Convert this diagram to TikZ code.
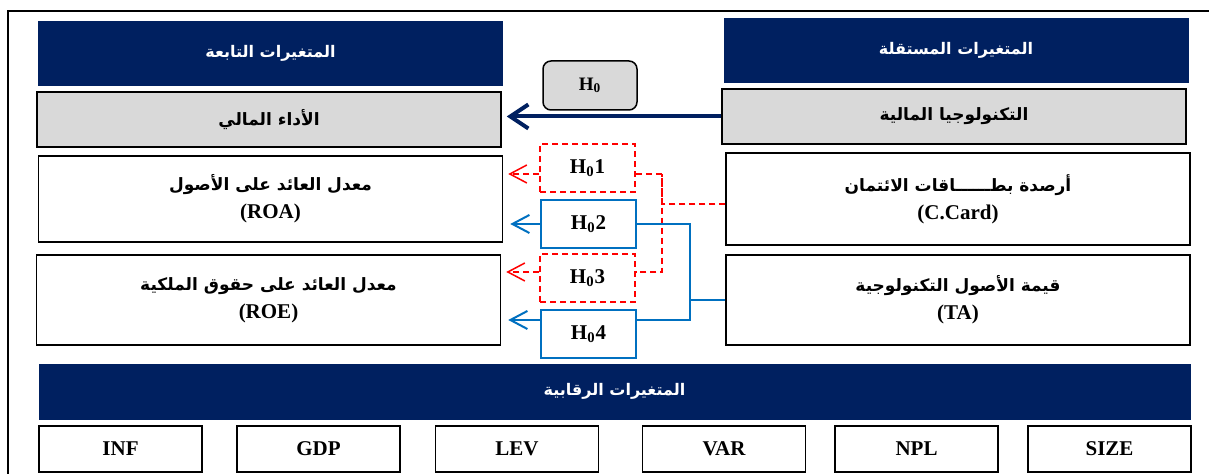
\documentclass[tikz,border=0pt]{standalone}
\usepackage{fontspec}
\setmainfont{Liberation Serif}
\newfontfamily\arabicfont[Script=Arabic]{DejaVu Sans}
\TeXXeTstate=1
\usetikzlibrary{positioning, arrows.meta}

\definecolor{navyblue}{HTML}{002060}
\definecolor{boxgray}{HTML}{D9D9D9}
\definecolor{linkred}{HTML}{FF0000}
\definecolor{linkblue}{HTML}{0070C0}

\newcommand{\artext}[1]{{\arabicfont\bfseries\fontsize{8.5}{14}\selectfont\beginR #1\endR}}
\newcommand{\arhead}[1]{{\arabicfont\bfseries\fontsize{8}{14}\selectfont\beginR #1\endR}}
\newcommand{\hyp}[1]{H\textsubscript{0}#1}

\begin{document}
\begin{tikzpicture}[
    x=0.5pt, y=-0.5pt,
    every node/.style={font=\bfseries\fontsize{10.5}{14}\selectfont, align=center, inner sep=0pt},
    headbox/.style={fill=navyblue, draw=navyblue, text=white, minimum width=232pt, minimum height=32pt},
    graybox/.style={fill=boxgray, draw=black, line width=0.75pt, minimum width=232pt, minimum height=27.5pt},
    varbox/.style={draw=black, line width=0.75pt, minimum width=232pt, minimum height=45pt},
    ctrlbox/.style={draw=black, line width=0.75pt, minimum width=81.5pt, minimum height=23pt},
    hypred/.style={draw=linkred, line width=0.75pt, dash pattern=on 3pt off 2pt, minimum width=47.5pt, minimum height=24pt},
    hypblue/.style={draw=linkblue, line width=0.9pt, minimum width=47.5pt, minimum height=24pt},
    redlink/.style={draw=linkred, line width=0.75pt, dash pattern=on 3pt off 2pt},
    bluelink/.style={draw=linkblue, line width=1pt},
    redarrow/.style={redlink, -{Straight Barb[length=8.5pt, width=9pt]}, shorten >=2.5pt},
    bluearrow/.style={bluelink, -{Straight Barb[length=8.5pt, width=9pt]}, shorten >=3.5pt}
]
\useasboundingbox (0,0) rectangle (1209,474);

% Frame
\draw[line width=1pt] (8,474) -- (8,11) -- (1209,11);

% Nodes
\node[headbox] (dephead) at (270.5,53.5) {\arhead{المتغيرات التابعة}};
\node[headbox] (indhead) at (956,50) {\arhead{المتغيرات المستقلة}};
\node[fill=boxgray, draw=black, line width=0.75pt, rounded corners=4pt, minimum width=47pt, minimum height=24.5pt, font=\bfseries\fontsize{9.5}{12}\selectfont] (hzero) at (590,85.5) {\hyp{}};
\node[graybox] (perf) at (269,119.5) {\artext{الأداء المالي}};
\node[graybox] (fintech) at (954,116.5) {\artext{التكنولوجيا المالية}};
\node[varbox, minimum height=43pt] (roa) at (270.5,199) {\artext{معدل العائد على الأصول}\\(ROA)};
\node[varbox, minimum height=46pt] (ccard) at (958,199) {\artext{أرصدة بطــــــاقات الائتمان}\\(C.Card)};
\node[varbox] (roe) at (268.5,300) {\artext{معدل العائد على حقوق الملكية}\\(ROE)};
\node[varbox] (ta) at (958,300) {\artext{قيمة الأصول التكنولوجية}\\(TA)};
\node[hypred] (hone) at (587.5,168) {\hyp{1}};
\node[hypblue] (htwo) at (588.5,224) {\hyp{2}};
\node[hypred] (hthree) at (587.5,278) {\hyp{3}};
\node[hypblue] (hfour) at (588.5,334) {\hyp{4}};
\node[headbox, minimum width=575.5pt, minimum height=27.5pt] (ctrl) at (614.5,391.5) {\arhead{المتغيرات الرقابية}};
\node[ctrlbox] (inf) at (120.5,449) {INF};
\node[ctrlbox] (gdp) at (318.5,449) {GDP};
\node[ctrlbox] (lev) at (517,449) {LEV};
\node[ctrlbox] (var) at (724,449) {VAR};
\node[ctrlbox] (npl) at (916.5,449) {NPL};
\node[ctrlbox] (size) at (1109.5,449) {SIZE};

\coordinate (redtop) at (662,174);
\coordinate (redbot) at (662,272);
\coordinate (bluetop) at (690,224);
\coordinate (bluebot) at (690,320);

% Paths
\draw[navyblue, line width=2pt, -{Straight Barb[length=9pt, width=12pt]}, shorten >=2.5pt] (fintech.west) -- (fintech.west -| perf.east);
\draw[redarrow] ([yshift=-3pt]hone.west) -- ([yshift=-3pt]hone.west -| roa.east);
\draw[redarrow] ([yshift=3pt]hthree.west) -- ([yshift=3pt]hthree.west -| roe.east);
\draw[bluearrow] (htwo.west) -- (htwo.west -| roa.east);
\draw[bluearrow] ([yshift=7pt]hfour.west) -- ([yshift=7pt]hfour.west -| roe.east);
\draw[redlink] ([yshift=-3pt]hone.east) -- (redtop) -- (redbot) -- ([yshift=3pt]hthree.east);
\draw[redlink] ([yshift=-2.5pt]ccard.west) -| (redtop);
\draw[bluelink] (htwo.east) -- (bluetop) -- (bluebot) -- ([yshift=7pt]hfour.east);
\draw[bluelink] (ta.west) -| (bluetop);

\end{tikzpicture}
\end{document}
